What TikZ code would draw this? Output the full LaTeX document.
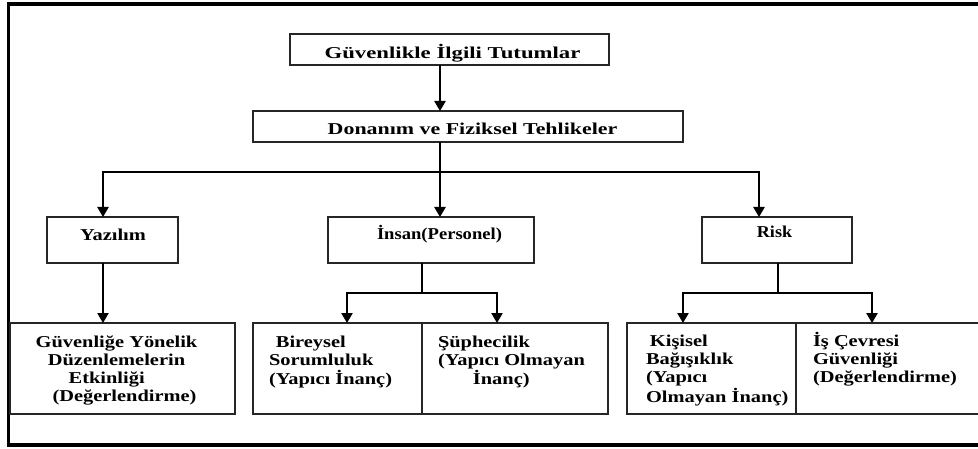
\documentclass[tikz,border=0pt]{standalone}
\usepackage{fontspec}
\setmainfont{Liberation Serif}
\usepackage{graphicx}
\usetikzlibrary{arrows.meta,fit}
\newcommand{\sx}[2][1.23]{\scalebox{#1}[1]{#2}}
\begin{document}
\begin{tikzpicture}[x=0.75pt,y=-0.75pt,
  box/.style={draw=black!85, line width=0.8pt, inner sep=0pt, outer sep=0pt},
  txt/.style={inner sep=0pt, outer sep=0pt, font=\bfseries\fontsize{12.45}{13.7}\selectfont},
  conn/.style={line width=1.1pt},
  arr/.style={conn, -{Triangle[width=8.5pt,length=7.5pt]}}]
\useasboundingbox (0,0) rectangle (978,449);
\clip (0,0) rectangle (978,449);
% outer frame
\draw[line width=2.3pt] (995,4) -- (8.5,4) -- (8.5,445) -- (995,445);
% boxes
\node[box, fit={(290,34) (609,65)}] (b1) {};
\node[box, fit={(253,111) (683,142)}] (b2) {};
\node[box, fit={(47,217) (178,263)}] (yz) {};
\node[box, fit={(328,217) (534,263)}] (ins) {};
\node[box, fit={(702,217) (852,263)}] (rk) {};
\node[box, fit={(10,323) (235,414)}] (gy) {};
\node[box, fit={(253,323) (422,414)}] (bs) {};
\node[box, fit={(422,323) (608,414)}] (sp) {};
\node[box, fit={(627,323) (796,414)}] (ks) {};
\node[box, fit={(796,323) (1000,414)}] (ic) {};
% connector coordinates
\coordinate (cx) at (440,0);
\coordinate (j1) at (440,172);
\coordinate (cy) at (103,0);
\coordinate (cr) at (759,0);
\coordinate (j2) at (422,293);
\coordinate (c2a) at (347,0);
\coordinate (c2b) at (497,0);
\coordinate (j3) at (778,293);
\coordinate (c3a) at (683,0);
\coordinate (c3b) at (872,0);
% connectors
\draw[arr] (b1.south -| cx) -- (b2.north -| cx);
\draw[conn] (b2.south -| cx) -- (j1);
\draw[arr] (j1) -| (yz.north -| cy);
\draw[arr] (j1) -- (ins.north -| cx);
\draw[arr] (j1) -| (rk.north -| cr);
\draw[arr] (yz.south -| cy) -- (gy.north -| cy);
\draw[conn] (ins.south -| j2) -- (j2);
\draw[arr] (j2) -| (bs.north -| c2a);
\draw[arr] (j2) -| (sp.north -| c2b);
\draw[conn] (rk.south -| j3) -- (j3);
\draw[arr] (j3) -| (ks.north -| c3a);
\draw[arr] (j3) -| (ic.north -| c3b);
% texts
\node[txt, anchor=base] (t1) at (452.5,59) {\sx[1.37]{Güvenlikle İlgili Tutumlar}};
\node[txt, anchor=base] (t2) at (472.5,135) {\sx[1.32]{Donanım ve Fiziksel Tehlikeler}};
\node[txt, anchor=base] (ty) at (113,240) {\sx{Yazılım}};
\node[txt, anchor=base] (ti) at (439.5,239) {\sx[1.12]{İnsan(Personel)}};
\node[txt, anchor=base] (tr) at (774.5,238) {\sx[1.09]{Risk}};
\node[txt, anchor=base] (tg) at (116.5,347) {\sx{\begin{tabular}[t]{@{}c@{}}Güvenliğe Yönelik\\ Düzenlemelerin\\ Etkinliği\hspace*{12pt}\\ \hspace*{9.8pt}(Değerlendirme)\end{tabular}}};
\node[txt, anchor=base west] (tb) at (269,347) {\sx{\begin{tabular}[t]{@{}l@{}}\hspace*{4.2pt}Bireysel\\ Sorumluluk\\ (Yapıcı İnanç)\end{tabular}}};
\node[txt, anchor=base west] (ts) at (438,347) {\sx{\begin{tabular}[t]{@{}l@{}}Şüphecilik\\ (Yapıcı Olmayan\\ \hspace*{21.3pt}İnanç)\end{tabular}}};
\node[txt, anchor=base west] (tk) at (646,346) {\sx{\begin{tabular}[t]{@{}l@{}}\hspace*{2.4pt}Kişisel\\ Bağışıklık\\ (Yapıcı\\ Olmayan İnanç)\end{tabular}}};
\node[txt, anchor=base west] (tc) at (813,346) {\sx{\begin{tabular}[t]{@{}l@{}}İş Çevresi\\ Güvenliği\\ (Değerlendirme)\end{tabular}}};
\end{tikzpicture}
\end{document}
